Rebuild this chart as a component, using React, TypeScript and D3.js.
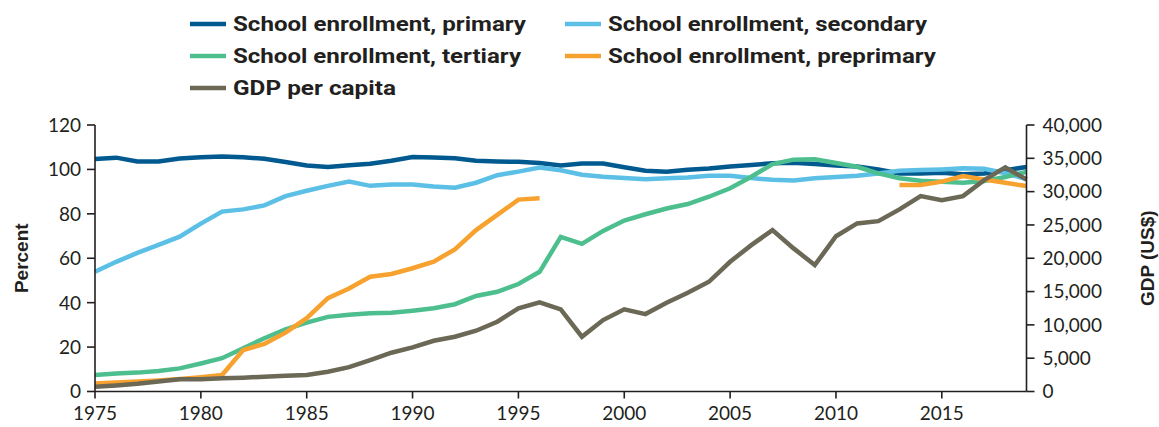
import React from "react";
import * as d3 from "d3";

const years: number[] = d3.range(1975, 2020);

const primary: (number | null)[] = [
  104.7, 105.3, 103.6, 103.6, 104.9, 105.5, 105.8, 105.5, 104.8, 103.3,
  101.8, 101.1, 101.9, 102.6, 103.9, 105.6, 105.4, 105.0, 103.9, 103.6,
  103.4, 102.9, 101.8, 102.7, 102.7, 101.0, 99.4, 99.0, 99.9, 100.4,
  101.3, 102.0, 102.8, 103.0, 102.4, 101.8, 101.3, 100.0, 98.2, 98.2,
  98.5, 97.8, 98.2, 99.6, 101.1,
];

const secondary: (number | null)[] = [
  53.9, 58.4, 62.4, 66.0, 69.7, 75.6, 81.0, 82.0, 83.8, 88.0,
  90.4, 92.6, 94.5, 92.6, 93.2, 93.2, 92.3, 91.8, 94.0, 97.4,
  99.0, 100.8, 99.6, 97.6, 96.7, 96.1, 95.6, 96.0, 96.4, 97.1,
  97.1, 96.1, 95.3, 95.0, 96.0, 96.6, 97.1, 98.2, 99.4, 99.7,
  100.0, 100.5, 100.3, 98.3, 95.6,
];

const tertiary: (number | null)[] = [
  7.4, 8.1, 8.5, 9.2, 10.4, 12.6, 15.0, 19.5, 24.0, 28.0,
  31.0, 33.6, 34.6, 35.2, 35.5, 36.4, 37.5, 39.3, 43.0, 44.9,
  48.4, 53.9, 69.6, 66.5, 72.3, 77.0, 79.8, 82.4, 84.4, 87.7,
  91.5, 96.7, 102.4, 104.4, 104.6, 102.9, 101.2, 98.2, 96.0, 94.9,
  94.5, 94.0, 94.8, 96.6, 98.9,
];

const preprimary: (number | null)[] = [
  3.6, 4.0, 4.5, 5.0, 5.6, 6.4, 7.4, 18.7, 21.4, 26.5,
  33.0, 42.0, 46.4, 51.7, 52.9, 55.5, 58.5, 64.0, 72.7, 79.5,
  86.4, 87.0, null, null, null, null, null, null, null, null,
  null, null, null, null, null, null, null, null, 93.0, 93.0,
  94.5, 97.0, 95.5, 94.0, 92.5,
];

const gdp: (number | null)[] = [
  700, 900, 1150, 1500, 1850, 1830, 1980, 2070, 2220, 2370,
  2480, 2970, 3650, 4720, 5820, 6630, 7620, 8220, 9120, 10470,
  12480, 13380, 12330, 8220, 10720, 12330, 11620, 13320, 14820, 16470,
  19470, 21970, 24220, 21480, 18970, 23300, 25230, 25570, 27330, 29320,
  28720, 29320, 31720, 33630, 31830,
];

const leftTicks: number[] = [0, 20, 40, 60, 80, 100, 120];
const rightTicks: number[] = [0, 5000, 10000, 15000, 20000, 25000, 30000, 35000, 40000];
const xTicks: number[] = [1975, 1980, 1985, 1990, 1995, 2000, 2005, 2010, 2015];

type Series = { name: string; values: (number | null)[]; color: string; axis: "left" | "right" };

const seriesList: Series[] = [
  { name: "School enrollment, primary", values: primary, color: "#005a8f", axis: "left" },
  { name: "School enrollment, secondary", values: secondary, color: "#5bbfe6", axis: "left" },
  { name: "School enrollment, tertiary", values: tertiary, color: "#4dbf8e", axis: "left" },
  { name: "School enrollment, preprimary", values: preprimary, color: "#f7a22f", axis: "left" },
  { name: "GDP per capita", values: gdp, color: "#6b6856", axis: "right" },
];

const legendLayout = [
  { x: 190, y: 24, w: 293 },
  { x: 565, y: 24, w: 319 },
  { x: 190, y: 56, w: 288 },
  { x: 565, y: 56, w: 328 },
  { x: 190, y: 88, w: 163 },
];

const W = 1159;
const H = 427;
const left = 95;
const right = 1026.5;
const top = 125;
const bottom = 391.5;

const textColor = "#231f20";
const tickFont = "Lato, 'Open Sans', sans-serif";
const boldFont = "'Liberation Sans Narrow', 'Roboto', 'Liberation Sans', sans-serif";

export default function App() {
  const x = d3.scaleLinear().domain([1975, 2019]).range([left, right]);
  const yL = d3.scaleLinear().domain([0, 120]).range([bottom, top]);
  const yR = d3.scaleLinear().domain([0, 40000]).range([bottom, top]);

  const makeLine = (s: Series) => {
    const y = s.axis === "left" ? yL : yR;
    const gen = d3
      .line<number>()
      .defined((_, i) => s.values[i] != null)
      .x((_, i) => x(years[i]))
      .y((_, i) => y(s.values[i] as number));
    return gen(years) || "";
  };

  return (
    <svg width={W} height={H} style={{ position: "absolute", left: 0, top: 0, background: "#fff" }}>
      {/* Legend */}
      {seriesList.map((s, i) => {
        const l = legendLayout[i];
        return (
          <g key={s.name}>
            <line x1={l.x} x2={l.x + 36} y1={l.y} y2={l.y} stroke={s.color} strokeWidth={4.7} />
            <text
              x={l.x + 43}
              y={l.y + 6.5}
              fontFamily={boldFont}
              fontWeight={700}
              fontSize={20}
              fill={textColor}
              textLength={l.w}
              lengthAdjust="spacingAndGlyphs"
            >
              {s.name}
            </text>
          </g>
        );
      })}

      {/* Lines */}
      <g>
        {seriesList.map((s) => (
          <path
            key={s.name}
            d={makeLine(s)}
            fill="none"
            stroke={s.color}
            strokeWidth={4.5}
            strokeLinejoin="miter"
            strokeLinecap="butt"
          />
        ))}
      </g>

      {/* Axes */}
      <g stroke={textColor} strokeWidth={1.6}>
        <line x1={left} x2={left} y1={top} y2={bottom} />
        <line x1={right} x2={right} y1={top} y2={bottom} />
        <line x1={left} x2={right} y1={bottom} y2={bottom} />
        {leftTicks.map((t) => (
          <line key={"lt" + t} x1={left - 8} x2={left} y1={yL(t)} y2={yL(t)} />
        ))}
        {rightTicks.map((t) => (
          <line key={"rt" + t} x1={right} x2={right + 8} y1={yR(t)} y2={yR(t)} />
        ))}
        {xTicks.map((t) => (
          <line key={"xt" + t} x1={x(t)} x2={x(t)} y1={bottom} y2={bottom + 7} />
        ))}
      </g>

      {leftTicks.map((t) => (
        <text
          key={"ll" + t}
          x={left - 14}
          y={yL(t)}
          dy="0.36em"
          textAnchor="end"
          fontFamily={tickFont}
          fontSize={19}
          fill={textColor}
        >
          {t}
        </text>
      ))}
      {rightTicks.map((t) => (
        <text
          key={"rl" + t}
          x={right + 16}
          y={yR(t)}
          dy="0.36em"
          textAnchor="start"
          fontFamily={tickFont}
          fontSize={19}
          fill={textColor}
        >
          {d3.format(",")(t)}
        </text>
      ))}
      {xTicks.map((t) => (
        <text
          key={"xl" + t}
          x={x(t)}
          y={bottom + 28}
          textAnchor="middle"
          fontFamily={tickFont}
          fontSize={19}
          fill={textColor}
        >
          {t}
        </text>
      ))}

      <text
        transform={`translate(28, ${(top + bottom) / 2}) rotate(-90)`}
        textAnchor="middle"
        fontFamily="'Liberation Sans', Arial, sans-serif"
        fontWeight={700}
        fontSize={19}
        fill={textColor}
      >
        Percent
      </text>
      <text
        transform={`translate(1154, ${(top + bottom) / 2}) rotate(-90)`}
        textAnchor="middle"
        fontFamily="'Liberation Sans', Arial, sans-serif"
        fontWeight={700}
        fontSize={19}
        fill={textColor}
      >
        GDP (US$)
      </text>
    </svg>
  );
}
